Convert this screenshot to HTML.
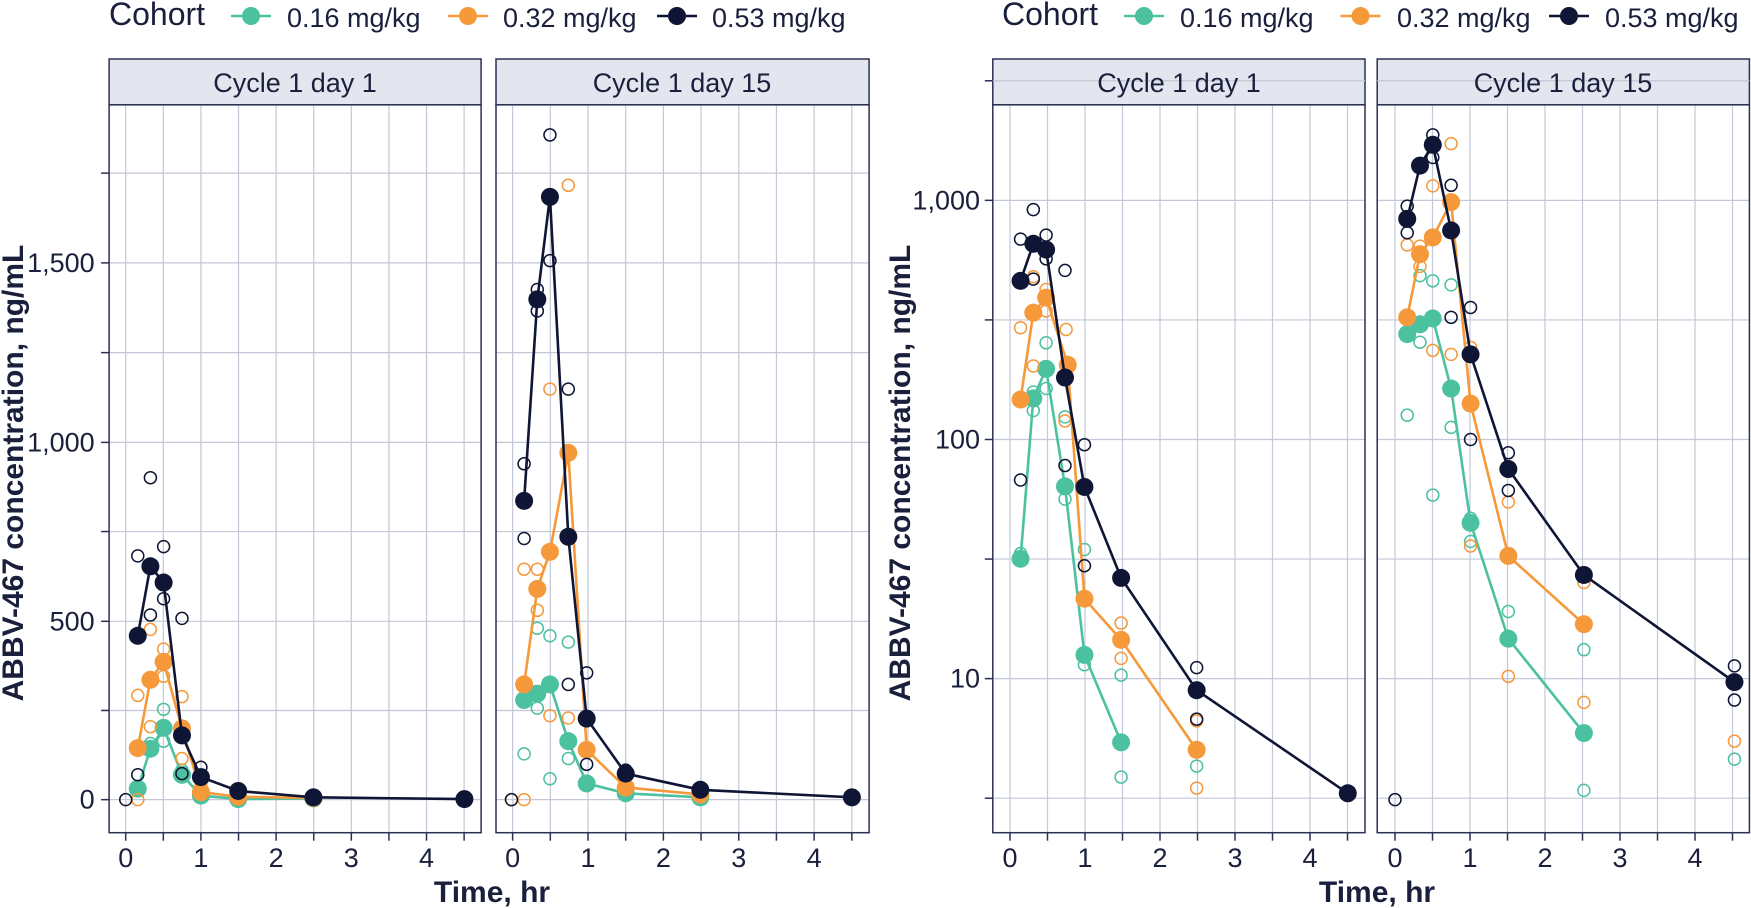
<!DOCTYPE html>
<html><head><meta charset="utf-8">
<style>
html,body{margin:0;padding:0;background:#fff;}
svg{display:block;font-family:"Liberation Sans",sans-serif;}
</style></head>
<body>
<svg id="s" width="1751" height="908" viewBox="0 0 1751 908" xmlns="http://www.w3.org/2000/svg">
<g id="g"></g>
<text x="109" y="25" font-size="32" fill="#1a1f3c">Cohort</text>
<text x="287" y="27" font-size="27" fill="#1a1f3c">0.16 mg/kg</text>
<text x="503" y="27" font-size="27" fill="#1a1f3c">0.32 mg/kg</text>
<text x="712" y="27" font-size="27" fill="#1a1f3c">0.53 mg/kg</text>
<text x="1002" y="25" font-size="32" fill="#1a1f3c">Cohort</text>
<text x="1180" y="27" font-size="27" fill="#1a1f3c">0.16 mg/kg</text>
<text x="1397" y="27" font-size="27" fill="#1a1f3c">0.32 mg/kg</text>
<text x="1605" y="27" font-size="27" fill="#1a1f3c">0.53 mg/kg</text>
<text x="295" y="92" font-size="27" fill="#1a1f3c" text-anchor="middle">Cycle 1 day 1</text>
<text x="682" y="92" font-size="27" fill="#1a1f3c" text-anchor="middle">Cycle 1 day 15</text>
<text x="1179" y="92" font-size="27" fill="#1a1f3c" text-anchor="middle">Cycle 1 day 1</text>
<text x="1563" y="92" font-size="27" fill="#1a1f3c" text-anchor="middle">Cycle 1 day 15</text>
<text x="492" y="902" font-size="30" font-weight="bold" fill="#1a1f3c" text-anchor="middle">Time, hr</text>
<text x="1377" y="902" font-size="30" font-weight="bold" fill="#1a1f3c" text-anchor="middle">Time, hr</text>
<text transform="translate(23,473) rotate(-90)" font-size="30" font-weight="bold" fill="#1a1f3c" text-anchor="middle">ABBV-467 concentration, ng/mL</text>
<text transform="translate(910,473) rotate(-90)" font-size="30" font-weight="bold" fill="#1a1f3c" text-anchor="middle">ABBV-467 concentration, ng/mL</text>
</svg>
<script>
var NS="http://www.w3.org/2000/svg",G=document.getElementById("g");
function el(t,a){var e=document.createElementNS(NS,t);for(var k in a)e.setAttribute(k,a[k]);G.appendChild(e);return e;}
var TEAL="#4cc1a0",OR="#f5993b",NV="#0f1535",GRID="#c3c7d6",BR="#2b3155",TX="#1a1f3c";
var PT=104.8,PB=832.7,ST=59;
function panel(x1,x2,ylines,xlines,fx,fy,ylabels,xlabs,drawY){
 el("rect",{x:x1,y:ST,width:x2-x1,height:PT-ST,fill:"#e3e6ee",stroke:BR,"stroke-width":1.5});
 ylines.forEach(function(v){var y=fy(v);el("line",{x1:x1,x2:x2,y1:y,y2:y,stroke:GRID,"stroke-width":1.2});
   if(drawY)el("line",{x1:x1-8,x2:x1,y1:y,y2:y,stroke:BR,"stroke-width":1.5});});
 xlines.forEach(function(v){var x=fx(v);el("line",{x1:x,x2:x,y1:PT,y2:PB,stroke:GRID,"stroke-width":1.2});
   el("line",{x1:x,x2:x,y1:PB,y2:PB+8,stroke:BR,"stroke-width":1.5});});
 el("rect",{x:x1,y:PT,width:x2-x1,height:PB-PT,fill:"none",stroke:BR,"stroke-width":1.5});
 if(drawY)ylabels.forEach(function(l){var t=el("text",{x:drawY,y:fy(l[0])+9,"font-size":27,fill:TX,"text-anchor":"end"});t.textContent=l[1];});
 xlabs.forEach(function(v){var t=el("text",{x:fx(v),y:867,"font-size":27,fill:TX,"text-anchor":"middle"});t.textContent=String(v);});
}
// left: zoom coords -> orig
function L(p){return [p[0]/1.742,p[1]/1.727];}
function R(p){return [880+p[0]/1.8,p[1]/1.727];}
var halves=[0,0.5,1,1.5,2,2.5,3,3.5,4,4.5];
// left panels
var lyl=[1381,1227,1073,918,764,609,454,299];
panel(109.1,481.1,lyl,halves,function(v){return (219+131*v)/1.742;},function(z){return z/1.727;},[[1381,"0"],[1073,"500"],[764,"1,000"],[454,"1,500"]],[0,1,2,3,4],94.7);
panel(496,869.1,lyl,halves,function(v){return (893+131.3*v)/1.742;},function(z){return z/1.727;},[],[0,1,2,3,4],0);
var ryl=[1378.5,1172,965.5,759,552.5,346,139.5];
panel(992.8,1365,ryl,halves,function(v){return 880+(234+135*v)/1.8;},function(z){return z/1.727;},[[1172,"10"],[759,"100"],[346,"1,000"]],[0,1,2,3,4],980);
panel(1377.2,1749.4,ryl,halves,function(v){return 880+(927+135*v)/1.8;},function(z){return z/1.727;},[],[0,1,2,3,4],0);
function series(f,col,mean,opens){
 opens.forEach(function(p){var q=f(p);el("circle",{cx:q[0],cy:q[1],r:6,fill:"none",stroke:col,"stroke-width":1.5});});
 el("polyline",{points:mean.map(function(p){return f(p).join(",");}).join(" "),fill:"none",stroke:col,"stroke-width":2.6});
 mean.forEach(function(p){var q=f(p);el("circle",{cx:q[0],cy:q[1],r:9,fill:col});});
}
function draw(f,T,O,N){
 series(f,TEAL,T[0],T[1]);series(f,OR,O[0],O[1]);series(f,NV,N[0],N[1]);
}
// panel 1
draw(L,
 [[[240,1362],[262,1293],[285,1257],[317,1338],[350,1374],[415,1380],[546,1379]],[[262,1284],[285,1225],[285,1280],[317,1330],[350,1375]]],
 [[[240,1292],[262,1174],[285,1143],[317,1258],[350,1368],[415,1376],[546,1378]],[[240,1201],[240,1381],[262,1087],[262,1255],[285,1121],[285,1168],[317,1203],[317,1310],[350,1358]]],
 [[[240,1098],[262,978],[285,1006],[317,1270],[350,1342],[415,1366],[546,1377],[809,1380]],[[219,1381],[240,960],[240,1338],[262,825],[262,1062],[285,944],[285,1034],[317,1068],[317,1336],[350,1325]]]);
// panel 2
draw(L,
 [[[913,1209],[936,1198],[958,1182],[990,1280],[1022,1353],[1090,1370],[1220,1377]],[[913,1302],[936,1085],[936,1223],[958,1098],[958,1345],[990,1109],[990,1310],[1022,1355]]],
 [[[913,1182],[936,1017],[958,953],[990,782],[1022,1295],[1090,1360],[1220,1372]],[[891,1381],[913,983],[913,1381],[936,983],[936,1054],[958,672],[958,1236],[990,320],[990,1240],[1022,1245]]],
 [[[913,865],[936,517],[958,340],[990,927],[1022,1241],[1090,1336],[1220,1364],[1484,1377]],[[891,1381],[913,801],[913,930],[936,500],[936,537],[958,233],[958,450],[990,672],[990,1182],[1022,1162],[1022,1320],[1090,1330]]]);
// panel 3
draw(R,
 [[[253,965],[276,688],[299,637],[333,840],[368,1131],[434,1282]],[[253,956],[276,677],[276,709],[299,592],[299,671],[333,720],[333,862],[368,949],[368,1148],[434,1166],[434,1342],[570,1323]]],
 [[[253,690],[276,540],[299,514],[338,630],[368,1034],[434,1105],[570,1295]],[[253,566],[276,478],[276,632],[299,500],[299,537],[335,569],[333,727],[368,1034],[434,1076],[434,1137],[570,1245],[570,1361]]],
 [[[253,485],[276,421],[299,431],[333,652],[368,841],[434,998],[570,1192],[842,1370]],[[253,829],[253,413],[276,362],[276,482],[299,406],[299,447],[333,467],[333,804],[368,768],[368,977],[570,1153],[570,1242]]]);
// panel 4
draw(R,
 [[[949,577],[972,560],[995,550],[1028,671],[1063,903],[1131,1103],[1267,1266]],[[949,717],[972,476],[972,591],[995,485],[995,855],[1028,492],[1028,738],[1063,895],[1063,935],[1131,1056],[1267,1122],[1267,1365],[1538,1311]]],
 [[[949,548],[972,439],[995,410],[1028,349],[1063,697],[1131,960],[1267,1078]],[[949,423],[972,425],[972,460],[995,321],[995,605],[1028,248],[1028,612],[1063,600],[1063,943],[1131,867],[1131,1168],[1267,1006],[1267,1213],[1538,1280]]],
 [[[949,378],[972,286],[995,250],[1028,398],[1063,612],[1131,810],[1267,993],[1538,1178]],[[927,1381],[949,356],[949,402],[995,233],[995,272],[1028,320],[1028,548],[1063,531],[1063,759],[1131,782],[1131,847],[1538,1150],[1538,1209]]]);
// legend keys
[[251,TEAL],[468,OR],[677,NV],[1144,TEAL],[1360.5,OR],[1569,NV]].forEach(function(k){
 el("line",{x1:k[0]-20,x2:k[0]+20,y1:16,y2:16,stroke:k[1],"stroke-width":2.6});
 el("circle",{cx:k[0],cy:16,r:9,fill:k[1]});
});
</script>
</body></html>
